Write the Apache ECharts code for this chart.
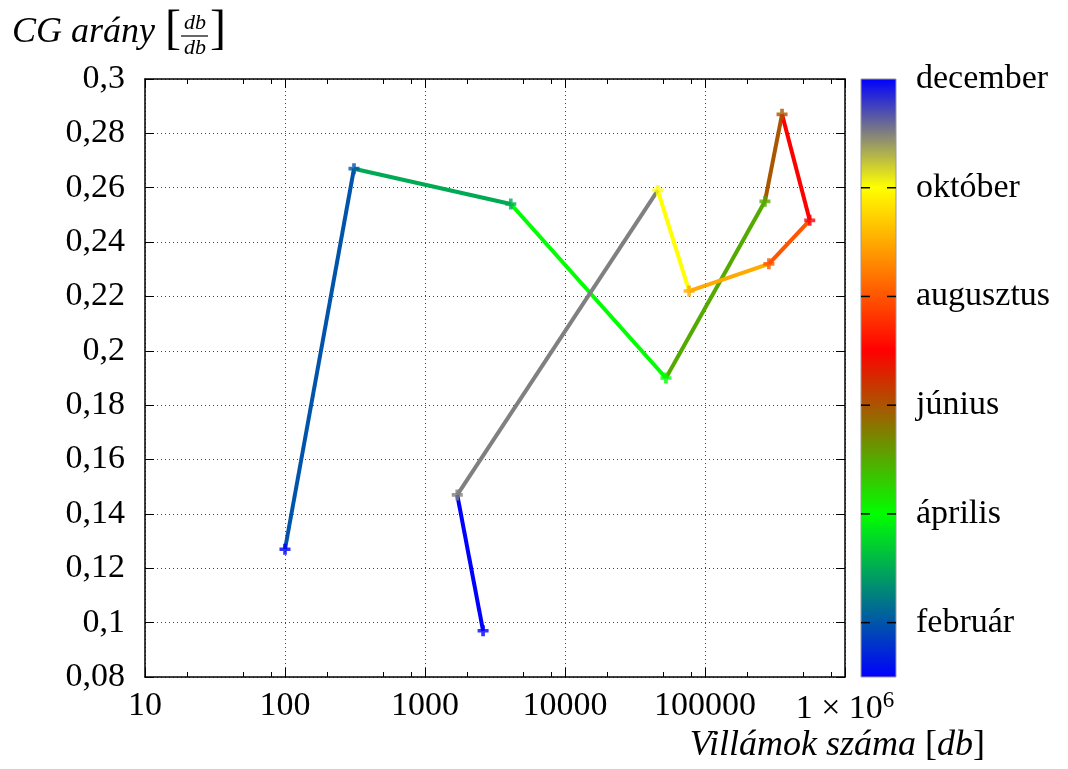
<!DOCTYPE html>
<html>
<head>
<meta charset="utf-8">
<script src="https://cdn.jsdelivr.net/npm/echarts@6/dist/echarts.min.js"></script>
<style>
  html, body { margin: 0; padding: 0; background: #fff; }
  #chart { width: 1068px; height: 769px; }
</style>
</head>
<body>
<div id="chart"></div>
<script>
// --- data ---
const months = [1, 2, 3, 4, 5, 6, 7, 8, 9, 10, 11, 12];
const monthNames = ["január", "február", "március", "április", "május", "június",
  "július", "augusztus", "szeptember", "október", "november", "december"];
const strikes = [100, 311, 4100, 52600, 268000, 355000, 560000, 286000, 77000, 46000, 1700, 2600];
const cgRatio = [0.127, 0.267, 0.254, 0.190, 0.255, 0.287, 0.248, 0.232, 0.222, 0.259, 0.147, 0.097];

const xMajorTicks = [10, 100, 1000, 10000, 100000, 1000000];
const xMinorTicks = [20, 50, 80, 200, 500, 800, 2000, 5000, 8000, 20000, 50000, 80000, 200000, 500000, 800000];
const barTicks = [2, 4, 6, 8, 10, 12];

// palette: blue -> green -> red -> yellow -> blue
const paletteMonths = [1, 4, 7, 10, 12];
const paletteColors = [[0, 0, 255], [0, 255, 0], [255, 0, 0], [255, 255, 0], [0, 0, 255]];

function monthColor(m) {
  for (let i = 0; i < paletteMonths.length - 1; i++) {
    const a = paletteMonths[i], b = paletteMonths[i + 1];
    if (m >= a && m <= b) {
      const t = (m - a) / (b - a);
      const c = paletteColors[i].map((v, k) => Math.round(v + (paletteColors[i + 1][k] - v) * t));
      return "rgb(" + c.join(",") + ")";
    }
  }
  return "rgb(0,0,255)";
}

const FONT = "Liberation Serif";
const gridDots = { color: "#444", width: 1, type: [1, 3] };
const frame = { show: true, lineStyle: { color: "#000", width: 1.5 } };

const chart = echarts.init(document.getElementById("chart"));

const segments = [];
for (let i = 0; i < months.length - 1; i++) {
  segments.push({
    type: "line",
    xAxisIndex: 0,
    yAxisIndex: 0,
    data: [[strikes[i], cgRatio[i]], [strikes[i + 1], cgRatio[i + 1]]],
    symbol: "none",
    lineStyle: { color: monthColor(months[i + 1]), width: 4 },
    z: 3
  });
}

const gradStops = paletteMonths.map((m, i) => ({
  offset: (m - 1) / 11,
  color: "rgb(" + paletteColors[i].join(",") + ")"
}));

const option = {
  animation: false,
  grid: [
    { left: 145, top: 79, width: 700, height: 598 },
    { left: 861, top: 79, width: 35, height: 598 }
  ],
  xAxis: [
    {
      type: "log", logBase: 10, min: 10, max: 1000000, gridIndex: 0, position: "bottom",
      axisLine: frame,
      axisTick: { inside: true, length: 9, lineStyle: { color: "#000" }, customValues: xMajorTicks },
      axisLabel: {
        fontFamily: FONT, fontSize: 34, color: "#000", margin: 12,
        customValues: xMajorTicks,
        formatter: v => v >= 999999 ? "{n|1 × 10}{s|6}" : String(Math.round(v)),
        rich: {
          n: { fontFamily: FONT, fontSize: 34, color: "#000", verticalAlign: "bottom" },
          s: { fontFamily: FONT, fontSize: 23, color: "#000", verticalAlign: "bottom", padding: [0, 0, 14, 0] }
        }
      },
      splitLine: { show: true, lineStyle: gridDots }
    },
    {
      type: "log", logBase: 10, min: 10, max: 1000000, gridIndex: 0, position: "top",
      axisLine: frame,
      axisTick: { inside: true, length: 9, lineStyle: { color: "#000" }, customValues: xMajorTicks },
      axisLabel: { show: false },
      splitLine: { show: false }
    },
    {
      type: "log", logBase: 10, min: 10, max: 1000000, gridIndex: 0, position: "bottom",
      axisLine: { show: false },
      axisTick: { inside: true, length: 5, lineStyle: { color: "#000" }, customValues: xMinorTicks },
      axisLabel: { show: false },
      splitLine: { show: false }
    },
    {
      type: "log", logBase: 10, min: 10, max: 1000000, gridIndex: 0, position: "top",
      axisLine: { show: false },
      axisTick: { inside: true, length: 5, lineStyle: { color: "#000" }, customValues: xMinorTicks },
      axisLabel: { show: false },
      splitLine: { show: false }
    },
    { type: "value", min: 0, max: 1, gridIndex: 1, show: false }
  ],
  yAxis: [
    {
      type: "value", min: 0.08, max: 0.3, interval: 0.02, gridIndex: 0, position: "left",
      axisLine: frame,
      axisTick: { inside: true, length: 9, lineStyle: { color: "#000" } },
      axisLabel: {
        fontFamily: FONT, fontSize: 34, color: "#000", margin: 20,
        formatter: v => String(+v.toFixed(2)).replace(".", ",")
      },
      splitLine: { show: true, lineStyle: gridDots }
    },
    {
      type: "value", min: 0.08, max: 0.3, interval: 0.02, gridIndex: 0, position: "right",
      axisLine: frame,
      axisTick: { inside: true, length: 9, lineStyle: { color: "#000" } },
      axisLabel: { show: false },
      splitLine: { show: false }
    },
    {
      type: "value", min: 1, max: 12, gridIndex: 1, position: "right",
      axisLine: { show: false },
      axisTick: { show: false },
      axisLabel: {
        fontFamily: FONT, fontSize: 34, color: "#000", margin: 20,
        customValues: barTicks,
        formatter: v => monthNames[Math.round(v) - 1]
      },
      splitLine: { show: false }
    }
  ],
  series: [
    ...segments,
    {
      type: "scatter",
      xAxisIndex: 0,
      yAxisIndex: 0,
      data: strikes.map((s, i) => [s, cgRatio[i]]),
      symbol: "path://M3,0H6V3H9V6H6V9H3V6H0V3H3Z",
      symbolSize: 11,
      itemStyle: { color: p => monthColor(months[p.dataIndex]) },
      z: 4
    },
    {
      type: "custom",
      xAxisIndex: 4,
      yAxisIndex: 2,
      silent: true,
      data: [[0, months[0], 1, months[months.length - 1]]],
      encode: { x: [0, 2], y: [1, 3] },
      renderItem: (params, api) => {
        const p0 = api.coord([api.value(0), api.value(1)]);
        const p1 = api.coord([api.value(2), api.value(3)]);
        const children = [{
          type: "rect",
          shape: { x: p0[0], y: p1[1], width: p1[0] - p0[0], height: p0[1] - p1[1] },
          style: {
            fill: new echarts.graphic.LinearGradient(0, 1, 0, 0, gradStops),
            stroke: "#999",
            lineWidth: 1
          }
        }];
        barTicks.slice(0, 5).forEach(m => {
          const y = api.coord([0, m])[1];
          children.push({ type: "line", shape: { x1: p0[0], y1: y, x2: p0[0] + 9, y2: y }, style: { stroke: "#000", lineWidth: 1.5 } });
          children.push({ type: "line", shape: { x1: p1[0] - 9, y1: y, x2: p1[0], y2: y }, style: { stroke: "#000", lineWidth: 1.5 } });
        });
        return { type: "group", children };
      }
    }
  ],
  graphic: [
    {
      type: "text", left: 12, top: 15,
      style: { text: "CG arány", font: "italic 36px 'Liberation Serif'", fill: "#000", letterSpacing: 1 }
    },
    {
      type: "text", left: 165, top: 6,
      style: { text: "[", font: "48px 'Liberation Serif'", fill: "#000" }
    },
    {
      type: "text", left: 184, top: 12,
      style: { text: "db", font: "italic 22px 'Liberation Serif'", fill: "#000" }
    },
    {
      type: "line", shape: { x1: 181, y1: 36, x2: 208, y2: 36 },
      style: { stroke: "#000", lineWidth: 1.2 }
    },
    {
      type: "text", left: 184, top: 37,
      style: { text: "db", font: "italic 22px 'Liberation Serif'", fill: "#000" }
    },
    {
      type: "text", left: 210, top: 6,
      style: { text: "]", font: "48px 'Liberation Serif'", fill: "#000" }
    },
    {
      type: "text", right: 83, top: 728,
      style: {
        text: "{i|Villámok száma }{r|[}{i|db}{r|]}",
        rich: {
          i: { fontFamily: FONT, fontStyle: "italic", fontSize: 36, fill: "#000", letterSpacing: 1 },
          r: { fontFamily: FONT, fontSize: 36, fill: "#000" }
        }
      }
    }
  ]
};

chart.setOption(option);
</script>
</body>
</html>
